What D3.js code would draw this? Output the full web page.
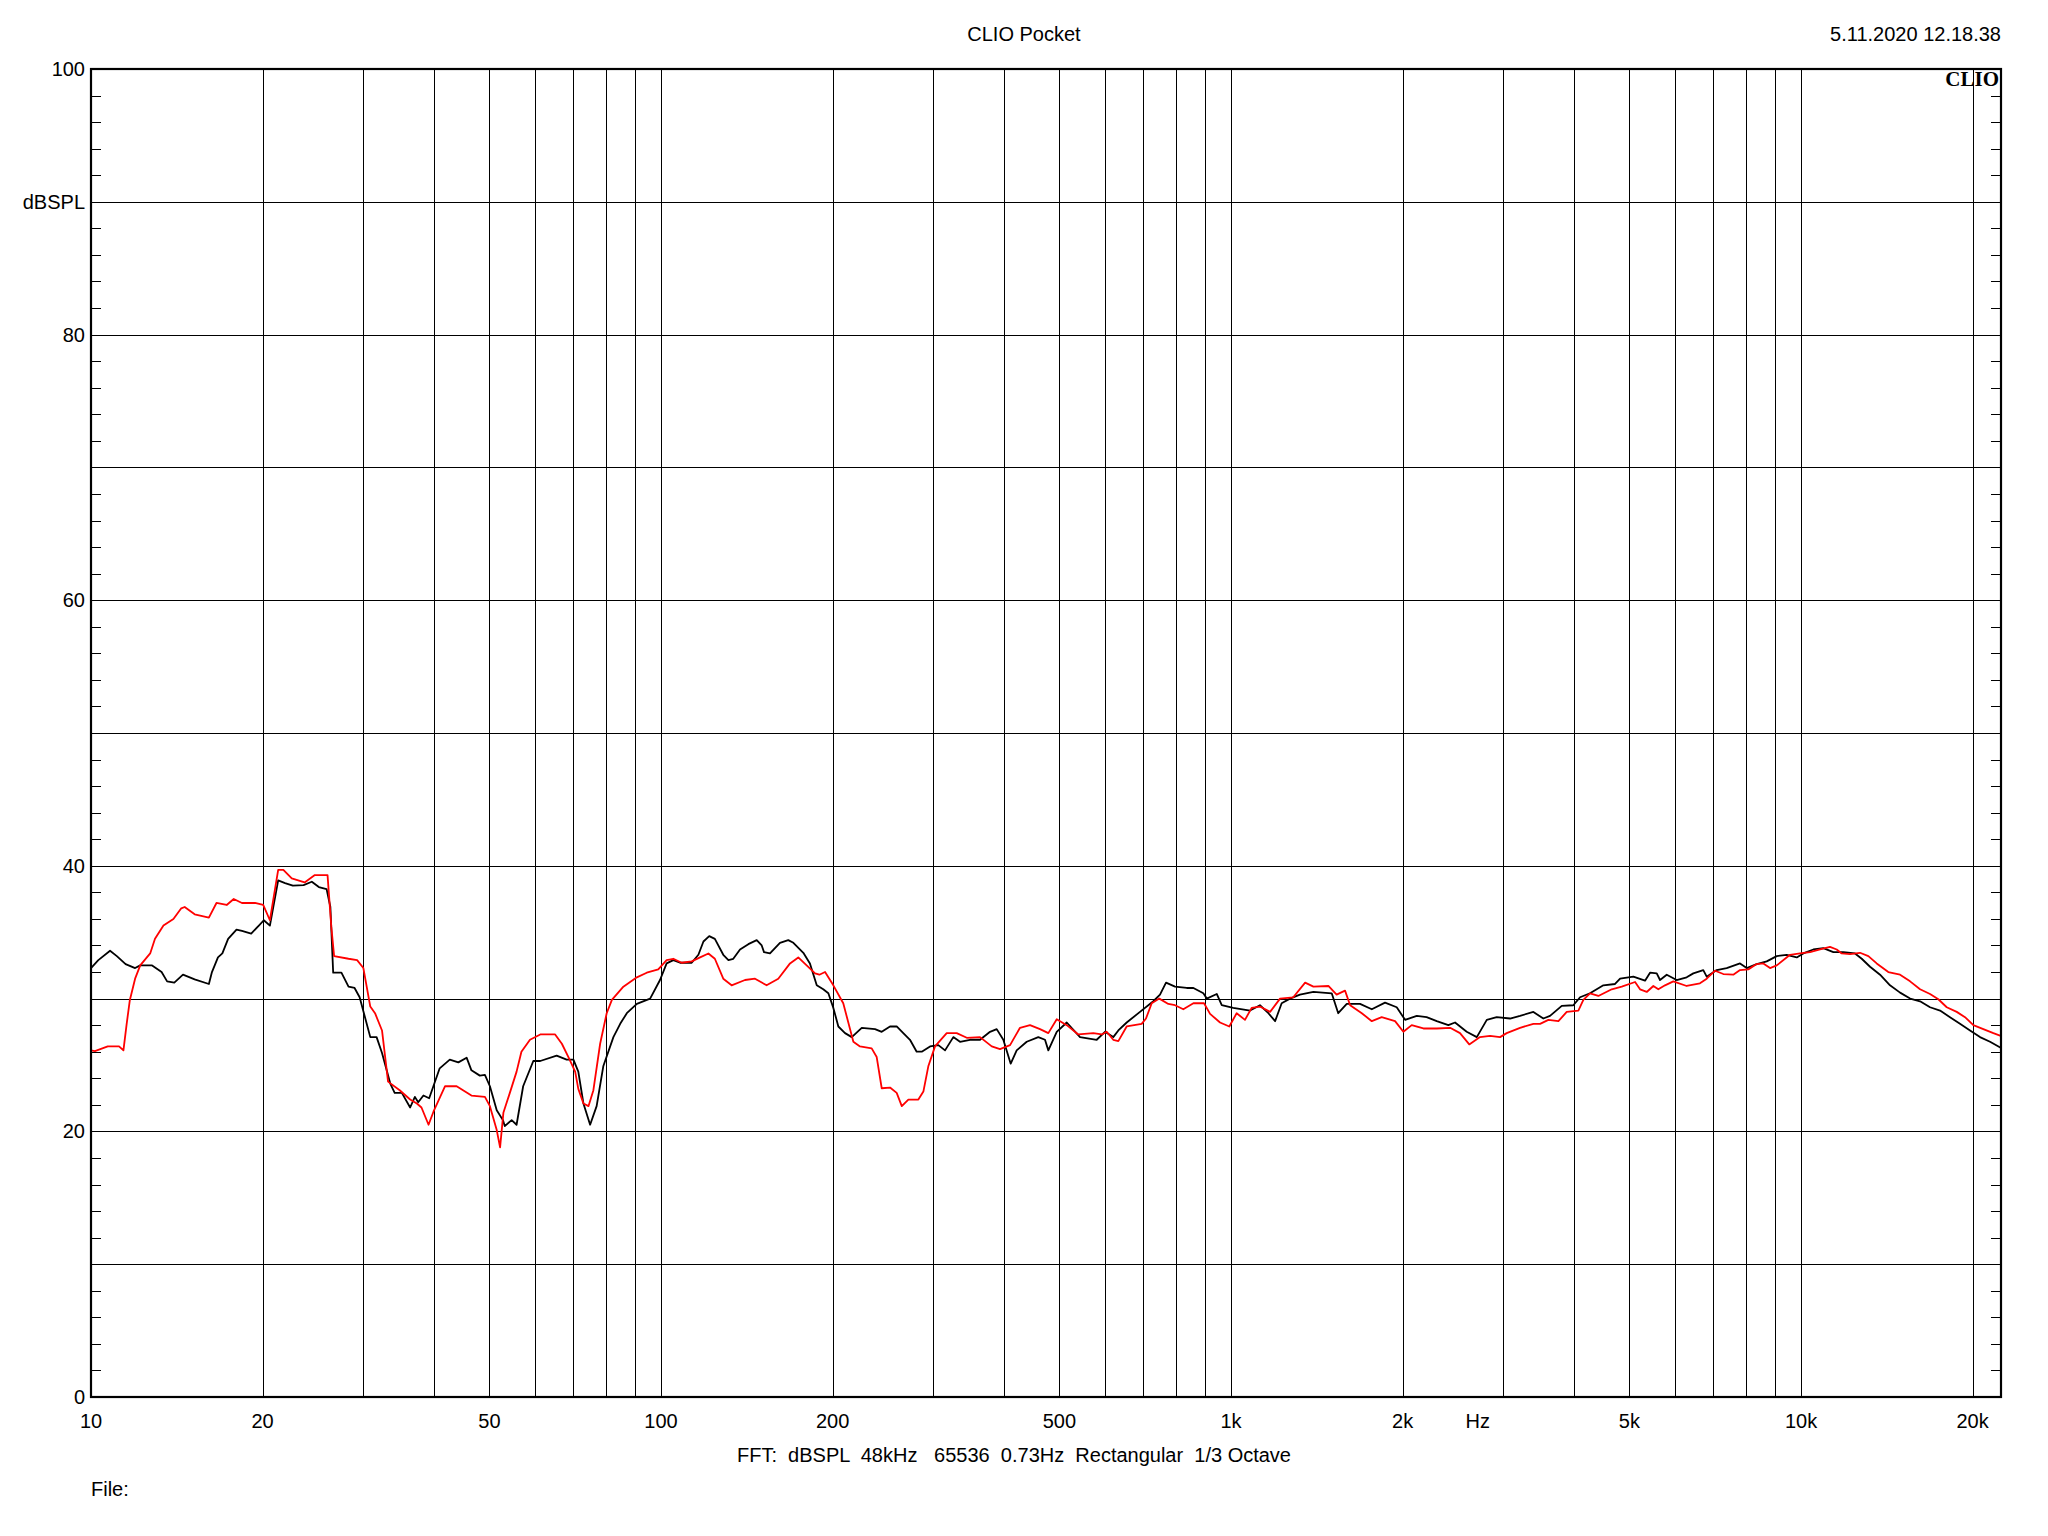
<!DOCTYPE html>
<html>
<head>
<meta charset="utf-8">
<script src="https://cdn.jsdelivr.net/npm/d3@7"></script>
<style>
  body { margin: 0; background: #fff; }
  svg { display: block; }
  text { font-family: "Liberation Sans", Arial, sans-serif; fill: #000; }
</style>
</head>
<body>
<svg id="chart" width="2048" height="1536"></svg>
<script>
// ---------- data (frequency Hz, level dBSPL) ----------
const blackSeries = [
  [10,32.3],[10.3,32.9],[10.8,33.6],[11.1,33.2],[11.5,32.6],[11.95,32.3],[12.2,32.5],[12.8,32.5],[13.3,32.0],[13.6,31.3],
  [14.0,31.2],[14.5,31.8],[15.2,31.45],[16.1,31.1],[16.3,32.0],[16.7,33.1],[17.0,33.4],[17.4,34.5],[18.0,35.2],[18.4,35.1],
  [19.1,34.9],[19.7,35.5],[20.1,35.9],[20.6,35.5],[21.3,38.9],[21.9,38.7],[22.6,38.5],[23.6,38.55],[24.4,38.8],[25.1,38.4],
  [25.9,38.25],[26.3,36.9],[26.6,31.95],[27.5,31.95],[28.3,30.9],[29.0,30.8],[29.6,30.1],[30.9,27.1],[31.7,27.1],[32.4,25.9],
  [33.5,23.6],[34.1,22.9],[35.1,22.9],[36.3,21.8],[37.0,22.6],[37.5,22.2],[38.3,22.7],[39.2,22.5],[40.9,24.75],[42.6,25.4],
  [44.1,25.2],[45.6,25.55],[46.5,24.6],[48.1,24.2],[49.1,24.25],[50.1,23.4],[51.5,21.6],[52.8,20.85],[53.2,20.4],[54.7,20.85],
  [55.8,20.5],[57.3,23.4],[59.7,25.3],[61.4,25.3],[65.6,25.7],[68.3,25.4],[70.2,25.4],[71.6,24.5],[73.1,22.1],[75.1,20.5],
  [77.1,21.9],[79.2,24.9],[82.5,27.1],[84.8,28.1],[87.1,28.9],[90.7,29.6],[95.7,30.0],[99.6,31.4],[102.3,32.65],[105.1,32.9],
  [108.0,32.7],[113.2,32.7],[116.3,33.3],[118.7,34.3],[121.5,34.7],[124.3,34.5],[128.6,33.3],[131.3,32.9],[133.9,33.0],[137.6,33.7],
  [142.3,34.1],[147.2,34.4],[150.2,34.0],[151.6,33.5],[155.3,33.4],[161.7,34.2],[167.2,34.4],[170.7,34.2],[177.7,33.45],[182.5,32.65],
  [187.6,31.0],[192.6,30.7],[196.6,30.4],[200.6,29.3],[204.7,27.9],[210.3,27.4],[216.1,27.1],[225.0,27.8],[237.4,27.7],[243.9,27.5],
  [252.2,27.9],[259.1,27.9],[266.1,27.4],[273.4,26.9],[280.9,26.0],[286.7,26.0],[296.5,26.4],[306.6,26.5],[315.0,26.1],[325.7,27.1],
  [334.6,26.75],[348.4,26.9],[362.8,26.9],[377.8,27.5],[388.1,27.7],[398.6,26.9],[410.7,25.1],[420.7,26.1],[438.1,26.75],[459.1,27.1],
  [471.7,26.9],[478.1,26.1],[494.6,27.5],[515,28.2],[543.4,27.1],[581.3,26.9],[601,27.5],[621.5,27.1],[634.3,27.6],[656.1,28.2],
  [692.3,29.0],[730.6,29.8],[750.6,30.3],[769.1,31.2],[797.6,30.9],[836.2,30.8],[859,30.8],[894.3,30.4],[906.7,30.0],[944,30.35],
  [963.3,29.5],[1009,29.3],[1080,29.1],[1124,29.5],[1163,28.9],[1195,28.3],[1227,29.65],[1269,30.0],[1321,30.3],[1395,30.5],
  [1502,30.4],[1542,28.9],[1596,29.6],[1684,29.6],[1766,29.2],[1863,29.7],[1953,29.35],[2020,28.4],[2118,28.7],[2204,28.6],
  [2296,28.3],[2406,28.0],[2472,28.2],[2591,27.5],[2699,27.1],[2810,28.4],[2925,28.6],[3087,28.5],[3214,28.7],[3392,29.0],
  [3531,28.5],[3628,28.7],[3804,29.45],[3986,29.5],[4096,30.1],[4264,30.4],[4500,31.0],[4718,31.1],[4815,31.5],[5080,31.65],
  [5325,31.35],[5434,31.95],[5583,31.9],[5658,31.4],[5813,31.8],[6051,31.4],[6301,31.6],[6472,31.9],[6738,32.15],[6832,31.65],
  [7113,32.15],[7406,32.3],[7816,32.65],[8030,32.3],[8360,32.6],[8706,32.8],[9066,33.2],[9438,33.3],[9829,33.1],[10093,33.4],
  [10510,33.7],[10942,33.8],[11395,33.5],[11865,33.5],[12437,33.4],[12779,33.0],[13216,32.4],[13760,31.8],[14326,31.0],[14920,30.45],
  [15536,30.0],[16175,29.8],[16840,29.35],[17535,29.1],[18254,28.6],[19006,28.1],[19793,27.6],[20606,27.1],[21459,26.75],[22402,26.3]
];

const redSeries = [
  [10,26.1],[10.16,26.05],[10.7,26.4],[11.2,26.4],[11.4,26.1],[11.55,28.1],[11.7,29.9],[11.95,31.5],[12.2,32.5],[12.7,33.4],
  [12.95,34.5],[13.4,35.5],[13.95,36.0],[14.4,36.8],[14.6,36.9],[15.2,36.35],[16.1,36.1],[16.6,37.2],[17.3,37.05],[17.8,37.5],
  [18.4,37.2],[19.4,37.2],[20.05,37.05],[20.6,35.9],[21.3,39.7],[21.75,39.7],[22.5,39.05],[23.7,38.75],[24.7,39.3],[26.0,39.3],
  [26.4,35.4],[26.7,33.2],[28.3,33.0],[29.3,32.9],[30.05,32.3],[30.9,29.4],[31.5,28.9],[32.4,27.6],[33.2,23.75],[34.8,23.1],
  [36.3,22.4],[37.3,22.1],[38.0,21.8],[39.1,20.5],[39.9,21.5],[41.8,23.4],[43.8,23.4],[46.5,22.7],[49.1,22.6],[50.1,21.9],
  [51.5,20.1],[52.2,18.8],[52.9,21.4],[54.3,22.9],[55.8,24.5],[56.9,26.0],[58.9,26.9],[61.4,27.3],[65.2,27.3],[67.0,26.6],
  [68.8,25.6],[70.7,24.5],[71.6,23.2],[73.1,22.1],[74.6,21.9],[76.1,23.1],[78.2,26.6],[80.3,28.9],[82.0,29.9],[85.9,30.9],
  [90.7,31.6],[94.4,31.95],[98.9,32.2],[102.3,32.9],[105.1,33.0],[108.7,32.7],[113.2,32.8],[117.1,33.1],[121.1,33.4],[124.3,33.0],
  [128.6,31.5],[133.0,31.0],[140.4,31.4],[146.2,31.5],[153.2,31.0],[160.6,31.5],[168.4,32.65],[174.1,33.1],[180.1,32.5],[186.3,31.9],
  [189.6,31.8],[194.0,32.0],[200.6,31.0],[208.8,29.65],[217.5,26.75],[223.4,26.4],[234.2,26.25],[239.0,25.6],[243.9,23.25],[252.2,23.3],
  [259.1,22.9],[264.5,21.9],[271.6,22.4],[282.8,22.4],[288.6,23.0],[294.4,24.9],[302.5,26.4],[317.1,27.4],[330.2,27.4],[343.9,27.05],
  [362.8,27.1],[380.4,26.4],[393.3,26.2],[409.6,26.5],[426.4,27.8],[444.0,28.0],[462.3,27.7],[478.1,27.4],[494.6,28.45],[515,28.0],
  [539.7,27.3],[573.3,27.4],[593.2,27.3],[605.2,27.5],[621.5,26.9],[634.3,26.8],[656.1,27.9],[697,28.1],[709.3,28.5],[725.9,29.65],
  [748.5,30.0],[776.3,29.6],[797.6,29.5],[824.7,29.2],[859,29.65],[896.8,29.65],[918.9,28.85],[956.6,28.2],[993.1,27.9],[1023,28.9],
  [1058,28.4],[1087,29.3],[1124,29.4],[1171,29.0],[1219,30.0],[1286,30.1],[1349,31.2],[1395,30.9],[1482,30.95],[1532,30.3],
  [1585,30.6],[1618,29.5],[1696,28.9],[1766,28.3],[1838,28.6],[1940,28.3],[2006,27.5],[2075,28.0],[2175,27.75],[2296,27.75],
  [2423,27.8],[2522,27.4],[2618,26.55],[2734,27.1],[2847,27.2],[2965,27.1],[3045,27.4],[3214,27.8],[3392,28.1],[3485,28.1],
  [3604,28.4],[3753,28.3],[3881,29.0],[4068,29.1],[4151,29.9],[4264,30.4],[4410,30.2],[4655,30.7],[4847,30.9],[5115,31.25],
  [5219,30.7],[5362,30.5],[5507,30.95],[5619,30.7],[5773,31.0],[5970,31.3],[6301,30.95],[6648,31.15],[6832,31.5],[7066,32.1],
  [7306,31.85],[7606,31.8],[7816,32.15],[8082,32.2],[8360,32.6],[8587,32.65],[8823,32.3],[9066,32.5],[9566,33.3],[9959,33.4],
  [10370,33.5],[10797,33.7],[11242,33.9],[11550,33.7],[11786,33.4],[12190,33.35],[12692,33.45],[13126,33.2],[13576,32.65],[14227,32.0],
  [14920,31.8],[15536,31.3],[16175,30.7],[16840,30.35],[17415,29.95],[18015,29.35],[18758,29.0],[19396,28.6],[20060,28.0],[20884,27.7],
  [21749,27.4],[22402,27.2]
];

const freqDomain = [10, 22430];
const levelDomain = [0, 100];
const gridFreqs = [20,30,40,50,60,70,80,90,100,200,300,400,500,600,700,800,900,
                   1000,2000,3000,4000,5000,6000,7000,8000,9000,10000,20000];
const xTickValues = [10,20,50,100,200,500,1000,2000,5000,10000,20000];
const xTickLabels = ["10","20","50","100","200","500","1k","2k","5k","10k","20k"];
const yGridValues = [10,20,30,40,50,60,70,80,90];
const yTickValues = [0,20,40,60,80,100];
const yMinorValues = d3.range(0, 101, 2);
const yUnit = {label: "dBSPL", value: 90};
const xUnit = {label: "Hz", value: 2710};
const titleText = "CLIO Pocket";
const dateText = "5.11.2020 12.18.38";
const logoText = "CLIO";
const infoText = "FFT:  dBSPL  48kHz   65536  0.73Hz  Rectangular  1/3 Octave";
const fileText = "File:";

// ---------- layout ----------
const W = 2048, H = 1536;
const plot = {left: 91, right: 2001, top: 69, bottom: 1397};
const x = d3.scaleLog().domain(freqDomain).range([plot.left, plot.right]);
const y = d3.scaleLinear().domain(levelDomain).range([plot.bottom, plot.top]);
const svg = d3.select("#chart");
const crisp = v => Math.round(v) + 0.5;

svg.append("rect").attr("width", W).attr("height", H).attr("fill", "#fff");

// grid
const grid = svg.append("g").attr("stroke", "#000").attr("stroke-width", 1).attr("shape-rendering", "crispEdges");
grid.selectAll("line.v").data(gridFreqs).join("line").attr("class", "v")
  .attr("x1", d => crisp(x(d))).attr("x2", d => crisp(x(d)))
  .attr("y1", plot.top).attr("y2", plot.bottom);
grid.selectAll("line.h").data(yGridValues).join("line").attr("class", "h")
  .attr("x1", plot.left).attr("x2", plot.right)
  .attr("y1", d => crisp(y(d))).attr("y2", d => crisp(y(d)));

// minor ticks on left and right axes
grid.selectAll("line.tl").data(yMinorValues).join("line").attr("class", "tl")
  .attr("x1", plot.left).attr("x2", plot.left + 10)
  .attr("y1", d => crisp(y(d))).attr("y2", d => crisp(y(d)));
grid.selectAll("line.tr").data(yMinorValues).join("line").attr("class", "tr")
  .attr("x1", plot.right - 10).attr("x2", plot.right)
  .attr("y1", d => crisp(y(d))).attr("y2", d => crisp(y(d)));

// curves
const line = d3.line().x(d => x(d[0])).y(d => y(d[1])).curve(d3.curveLinear);
svg.append("path").datum(blackSeries).attr("d", line)
  .attr("fill", "none").attr("stroke", "#000").attr("stroke-width", 1.8).attr("stroke-linejoin", "round");
svg.append("path").datum(redSeries).attr("d", line)
  .attr("fill", "none").attr("stroke", "#ff0000").attr("stroke-width", 1.8).attr("stroke-linejoin", "round");

// frame
svg.append("rect").attr("x", plot.left).attr("y", plot.top)
  .attr("width", plot.right - plot.left).attr("height", plot.bottom - plot.top)
  .attr("fill", "none").attr("stroke", "#000").attr("stroke-width", 2.2);

// y labels
const fs = 20;
svg.append("g").selectAll("text").data(yTickValues).join("text")
  .attr("x", plot.left - 6).attr("y", d => y(d)).attr("dy", "0.35em")
  .attr("text-anchor", "end").attr("font-size", fs).text(d => d);
svg.append("text").attr("x", plot.left - 6).attr("y", y(yUnit.value)).attr("dy", "0.35em")
  .attr("text-anchor", "end").attr("font-size", fs).text(yUnit.label);

// x labels
svg.append("g").selectAll("text").data(xTickValues).join("text")
  .attr("x", d => x(d)).attr("y", 1428)
  .attr("text-anchor", "middle").attr("font-size", fs).text((d, i) => xTickLabels[i]);
svg.append("text").attr("x", x(xUnit.value)).attr("y", 1428)
  .attr("text-anchor", "middle").attr("font-size", fs).text(xUnit.label);

// header / footer
svg.append("text").attr("x", 1024).attr("y", 41).attr("text-anchor", "middle")
  .attr("font-size", fs).text(titleText);
svg.append("text").attr("x", plot.right).attr("y", 41).attr("text-anchor", "end")
  .attr("font-size", fs).text(dateText);
svg.append("text").attr("x", plot.right - 2).attr("y", 86).attr("text-anchor", "end")
  .attr("font-size", 21).attr("font-weight", "bold")
  .style("font-family", "'Liberation Serif', 'Times New Roman', serif").text(logoText);
svg.append("text").attr("x", 1014).attr("y", 1462).attr("text-anchor", "middle")
  .attr("font-size", fs).style("white-space", "pre").attr("xml:space", "preserve").text(infoText);
svg.append("text").attr("x", plot.left).attr("y", 1496).attr("text-anchor", "start")
  .attr("font-size", fs).text(fileText);
</script>
</body>
</html>
